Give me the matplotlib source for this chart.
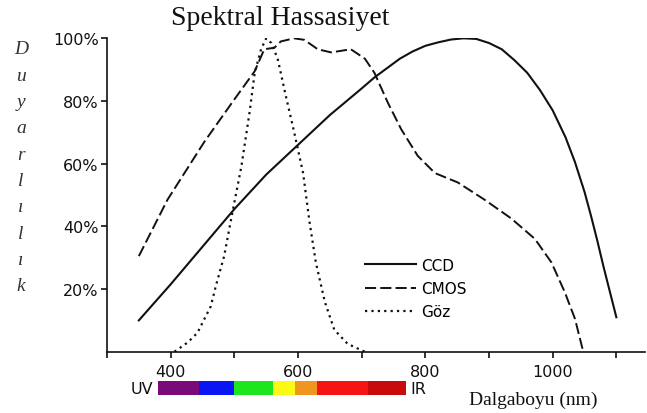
import matplotlib
matplotlib.use("Agg")
import matplotlib.pyplot as plt
import matplotlib.transforms as mtransforms
from matplotlib.patches import Rectangle
from matplotlib.ticker import FuncFormatter

# data
ccd_wl = [350, 400, 450, 500, 550, 600, 650, 700, 720, 740, 760, 780, 800, 820, 840, 860, 880,
          900, 920, 940, 960, 980, 1000, 1020, 1035, 1050, 1060, 1070, 1080, 1090, 1100]
ccd_val = [10, 21.5, 33.5, 45.5, 56.5, 66, 75.5, 84, 87.5, 90.5, 93.5, 95.8, 97.6, 98.7, 99.6, 100, 99.8,
           98.5, 96.5, 93, 89, 83.5, 77, 68.5, 60.5, 51, 43.5, 35.5, 27, 19, 11]

cmos_wl = [350, 395, 453, 500, 532, 547, 563, 573, 594, 610, 631, 652, 683, 705, 720, 741, 762,
           788, 815, 851, 893, 935, 972, 998, 1019, 1035, 1048]
cmos_val = [30.5, 48.5, 67, 80.5, 89.5, 96.5, 97, 99, 100, 99.5, 96.5, 95.5, 96.5, 93.5, 89, 79.5, 71,
            62.5, 57, 54, 48.5, 42.5, 36, 28.5, 19, 10.5, 0]

goz_wl = [406, 427, 442, 463, 471, 484, 497, 511, 524, 532, 542, 550, 558, 568, 581, 594, 608,
          618, 628, 642, 657, 678, 694, 705]
goz_val = [0, 3, 6, 14.5, 21, 30.5, 44.5, 59, 76.5, 89, 96.5, 100, 98.5, 93.5, 81.5, 70, 57,
           41.5, 28.5, 16, 7, 2.5, 1, 0]

# visible spectrum bands (nm) under the axis
band_edges = [380, 445, 500, 560, 595, 630, 710, 770]
band_colors = ["#7a0a7a", "#0a14f5", "#1ee61e", "#fafa14", "#f0961e", "#f51414", "#c80a0a"]

y_ticks = [20, 40, 60, 80, 100]
x_ticks = [300, 400, 500, 600, 700, 800, 900, 1000, 1100]
x_labelled = [400, 600, 800, 1000]

plt.rcParams["lines.scale_dashes"] = False
plt.rcParams["font.family"] = "DejaVu Sans"

fig = plt.figure(figsize=(6.47, 4.14), dpi=100)
ax = fig.add_axes([107 / 647, 1 - 352.7 / 414, (645 - 107) / 647, (352.7 - 39.3) / 414])

ink = "#111111"
ax.plot(ccd_wl, ccd_val, color=ink, lw=1.5, label="CCD")
ax.plot(cmos_wl, cmos_val, color=ink, lw=1.4, dashes=(8, 3), label="CMOS")
ax.plot(goz_wl, goz_val, color=ink, lw=1.6, dashes=(1.6, 3), label="Göz")

ax.set_xlim(300, 1145)
ax.set_ylim(0, 100)

for side in ["top", "right"]:
    ax.spines[side].set_visible(False)
for side in ["left", "bottom"]:
    ax.spines[side].set_color(ink)
    ax.spines[side].set_linewidth(1.2)

ax.set_yticks(y_ticks)
ax.set_yticklabels([f"{v}%" for v in y_ticks])
ax.set_xticks(x_ticks)
ax.xaxis.set_major_formatter(FuncFormatter(lambda v, p: f"{int(v)}" if int(v) in x_labelled else ""))
ax.tick_params(axis="y", direction="out", length=4, width=1.2, pad=2, labelsize=11.5, colors=ink)
ax.tick_params(axis="x", direction="out", length=4, width=1.2, pad=5, labelsize=11.5, colors=ink)

leg = ax.legend(loc="upper left", bbox_to_anchor=(0.48, 0.30), frameon=False, borderpad=0,
                borderaxespad=0, handlelength=3.3, handletextpad=0.35, labelspacing=0.55,
                fontsize=11)

# spectrum strip
trans = mtransforms.blended_transform_factory(ax.transData, ax.transAxes)
for i, c in enumerate(band_colors):
    ax.add_patch(Rectangle((band_edges[i], -0.138), band_edges[i + 1] - band_edges[i], 0.044,
                           transform=trans, facecolor=c, edgecolor="none", clip_on=False))
ax.text(373, -0.116, "UV", transform=trans, ha="right", va="center", fontsize=11.5, color=ink)
ax.text(776, -0.116, "IR", transform=trans, ha="left", va="center", fontsize=11.5, color=ink)
ax.text(969, -0.167, "Dalgaboyu (nm)", transform=trans, ha="center", va="baseline",
        fontsize=14, family="Liberation Serif", color=ink)

fig.text(280 / 647, 1 - 25 / 414, "Spektral Hassasiyet", ha="center", va="baseline",
         fontsize=20, family="Liberation Serif", color=ink)

# vertical stacked y label
letters = list("Duyarlılık")
for i, ch in enumerate(letters):
    ypix = 50 + i * 26.3
    fig.text(21 / 647, 1 - ypix / 414, ch, ha="center", va="center", fontsize=14,
             family="Liberation Serif", style="italic", color="#333333")

fig.savefig("out.png", dpi=100)
